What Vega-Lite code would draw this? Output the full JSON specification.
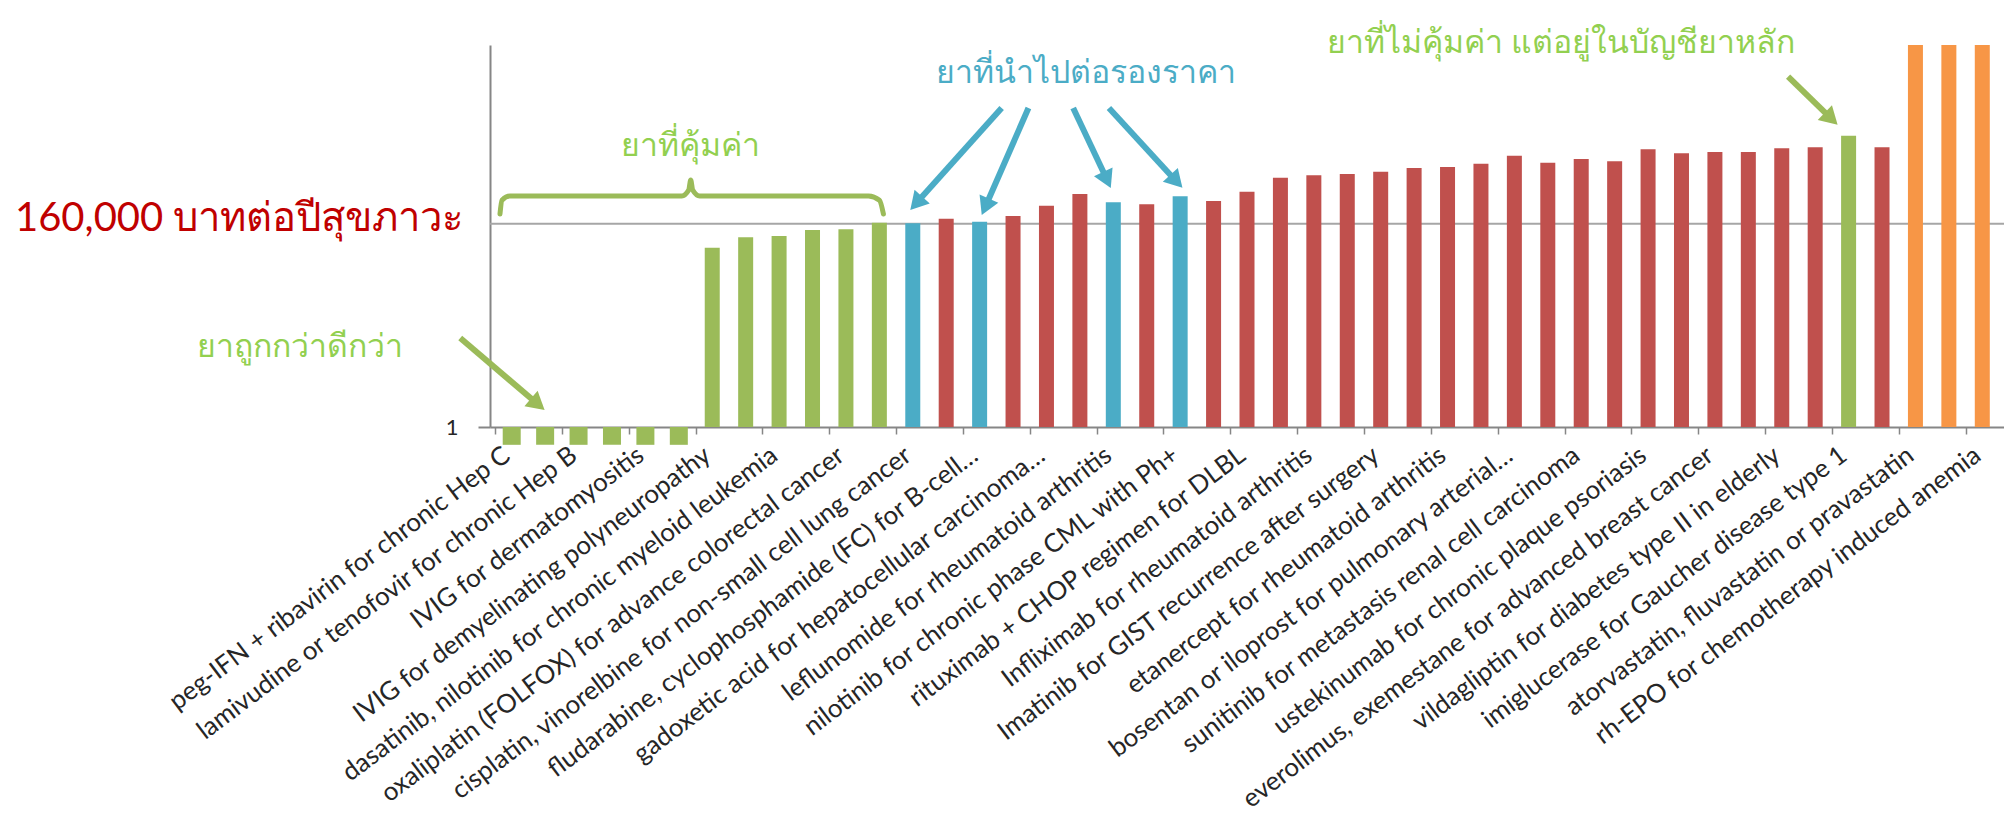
{
  "$schema": "https://vega.github.io/schema/vega-lite/v6.json",
  "width": 1514,
  "height": 382,
  "autosize": {"type": "none"},
  "padding": {"left": 490, "top": 45, "right": 0, "bottom": 394},
  "background": "white",
  "config": {"view": {"stroke": null}, "font": "Lato", "legend": {"disable": true}},
  "datasets": {
    "drugs": [
      {"rank": 1, "drug": "peg-IFN + ribavirin for chronic Hep C", "icer": 0.35, "group": "cheaper and better"},
      {"rank": 2, "icer": 0.35, "group": "cheaper and better"},
      {"rank": 3, "drug": "lamivudine or tenofovir for chronic Hep B", "icer": 0.35, "group": "cheaper and better"},
      {"rank": 4, "icer": 0.35, "group": "cheaper and better"},
      {"rank": 5, "drug": "IVIG for dermatomyositis", "icer": 0.35, "group": "cheaper and better"},
      {"rank": 6, "icer": 0.35, "group": "cheaper and better"},
      {"rank": 7, "drug": "IVIG for demyelinating polyneuropathy", "icer": 38800, "group": "cost-effective"},
      {"rank": 8, "icer": 71700, "group": "cost-effective"},
      {"rank": 9, "drug": "dasatinib, nilotinib for chronic myeloid leukemia", "icer": 77400, "group": "cost-effective"},
      {"rank": 10, "icer": 110000, "group": "cost-effective"},
      {"rank": 11, "drug": "oxaliplatin (FOLFOX) for advance colorectal cancer", "icer": 115000, "group": "cost-effective"},
      {"rank": 12, "icer": 170000, "group": "cost-effective"},
      {"rank": 13, "drug": "cisplatin, vinorelbine for non-small cell lung cancer", "icer": 164000, "group": "price negotiated"},
      {"rank": 14, "icer": 214000, "group": "not cost-effective"},
      {"rank": 15, "drug": "fludarabine, cyclophosphamide (FC) for B-cell…", "icer": 180000, "group": "price negotiated"},
      {"rank": 16, "icer": 252000, "group": "not cost-effective"},
      {"rank": 17, "drug": "gadoxetic acid for hepatocellular carcinoma…", "icer": 461000, "group": "not cost-effective"},
      {"rank": 18, "icer": 920000, "group": "not cost-effective"},
      {"rank": 19, "drug": "leflunomide for rheumatoid arthritis", "icer": 564000, "group": "price negotiated"},
      {"rank": 20, "icer": 501000, "group": "not cost-effective"},
      {"rank": 21, "drug": "nilotinib for chronic phase CML with Ph+", "icer": 803000, "group": "price negotiated"},
      {"rank": 22, "icer": 609000, "group": "not cost-effective"},
      {"rank": 23, "drug": "rituximab + CHOP regimen for DLBL", "icer": 1054000, "group": "not cost-effective"},
      {"rank": 24, "icer": 2400000, "group": "not cost-effective"},
      {"rank": 25, "drug": "Infliximab for rheumatoid arthritis", "icer": 2770000, "group": "not cost-effective"},
      {"rank": 26, "icer": 2990000, "group": "not cost-effective"},
      {"rank": 27, "drug": "Imatinib for GIST recurrence after surgery", "icer": 3420000, "group": "not cost-effective"},
      {"rank": 28, "icer": 4250000, "group": "not cost-effective"},
      {"rank": 29, "drug": "etanercept for rheumatoid arthritis", "icer": 4520000, "group": "not cost-effective"},
      {"rank": 30, "icer": 5490000, "group": "not cost-effective"},
      {"rank": 31, "drug": "bosentan or iloprost for pulmonary arterial…", "icer": 8790000, "group": "not cost-effective"},
      {"rank": 32, "icer": 5820000, "group": "not cost-effective"},
      {"rank": 33, "drug": "sunitinib for metastasis renal cell carcinoma", "icer": 7230000, "group": "not cost-effective"},
      {"rank": 34, "icer": 6320000, "group": "not cost-effective"},
      {"rank": 35, "drug": "ustekinumab for chronic plaque psoriasis", "icer": 12800000, "group": "not cost-effective"},
      {"rank": 36, "icer": 10100000, "group": "not cost-effective"},
      {"rank": 37, "drug": "everolimus, exemestane for advanced breast cancer", "icer": 10900000, "group": "not cost-effective"},
      {"rank": 38, "icer": 10900000, "group": "not cost-effective"},
      {"rank": 39, "drug": "vildagliptin for diabetes type II in elderly", "icer": 13600000, "group": "not cost-effective"},
      {"rank": 40, "icer": 14400000, "group": "not cost-effective"},
      {"rank": 41, "drug": "imiglucerase for Gaucher disease type 1", "icer": 28600000, "group": "not cost-effective but in NLEM"},
      {"rank": 42, "icer": 14400000, "group": "not cost-effective"},
      {"rank": 43, "drug": "atorvastatin, fluvastatin or pravastatin", "icer": 6000000000, "group": "very high ICER"},
      {"rank": 44, "icer": 6000000000, "group": "very high ICER"},
      {"rank": 45, "drug": "rh-EPO for chemotherapy induced anemia", "icer": 6000000000, "group": "very high ICER"}
    ],
    "arrows": [
      {"arrow": "G1", "group": "cheaper and better", "u": -0.54, "v": 189.7, "u2": 1.713, "v2": 4.31, "hu": 1.781, "hv": 3.83},
      {"arrow": "B1", "group": "price negotiated", "u": 15.659, "v": 146300000, "u2": 13.162, "v2": 606000, "hu": 13.103, "hv": 532000},
      {"arrow": "B2", "group": "price negotiated", "u": 16.461, "v": 146300000, "u2": 15.207, "v2": 511000, "hu": 15.171, "hv": 433000},
      {"arrow": "B3", "group": "price negotiated", "u": 17.799, "v": 146300000, "u2": 18.777, "v2": 2480000, "hu": 18.812, "hv": 2110000},
      {"arrow": "B4", "group": "price negotiated", "u": 18.869, "v": 146300000, "u2": 20.827, "v2": 2200000, "hu": 20.887, "hv": 1940000},
      {"arrow": "G2", "group": "not cost-effective but in NLEM", "u": 39.19, "v": 927000000, "u2": 40.42, "v2": 87700000, "hu": 40.48, "hv": 78000000}
    ],
    "bracket": [
      {"pt": 1, "u": 0.649, "v": 283000},
      {"pt": 2, "u": 0.708, "v": 640000},
      {"pt": 3, "u": 0.946, "v": 818000},
      {"pt": 4, "u": 6.088, "v": 818000},
      {"pt": 5, "u": 6.296, "v": 1160000},
      {"pt": 6, "u": 6.356, "v": 2100000},
      {"pt": 7, "u": 6.415, "v": 1160000},
      {"pt": 8, "u": 6.623, "v": 818000},
      {"pt": 9, "u": 11.676, "v": 818000},
      {"pt": 10, "u": 12.003, "v": 640000},
      {"pt": 11, "u": 12.122, "v": 283000}
    ]
  },
  "encoding": {
    "x": {"type": "quantitative", "title": null, "scale": {"domain": [0.5, 45.5], "nice": false, "zero": false}},
    "y": {"type": "quantitative", "title": null, "scale": {"type": "log", "domain": [1, 6000000000]}}
  },
  "layer": [
    {
      "data": {"values": [{"threshold": 160000}]},
      "mark": {"type": "rule", "color": "#A6A6A6", "strokeWidth": 2},
      "encoding": {
        "y": {"field": "threshold", "type": "quantitative"}
      }
    },
    {
      "data": {"name": "drugs"},
      "transform": [{"filter": "datum.icer >= 1"}],
      "mark": {"type": "bar", "width": 15},
      "encoding": {
        "x": {
          "field": "rank", "type": "quantitative",
          "axis": {
            "values": [0.5, 1.5, 2.5, 3.5, 4.5, 5.5, 6.5, 7.5, 8.5, 9.5, 10.5, 11.5, 12.5, 13.5, 14.5, 15.5, 16.5, 17.5, 18.5, 19.5, 20.5, 21.5, 22.5, 23.5, 24.5, 25.5, 26.5, 27.5, 28.5, 29.5, 30.5, 31.5, 32.5, 33.5, 34.5, 35.5, 36.5, 37.5, 38.5, 39.5, 40.5, 41.5, 42.5, 43.5, 44.5, 45.5],
            "labels": false, "grid": false, "tickSize": 7, "tickColor": "#868686", "tickWidth": 1.5,
            "domainColor": "#868686", "domainWidth": 2
          }
        },
        "y": {
          "field": "icer", "type": "quantitative",
          "axis": {
            "values": [1, 160000], "grid": false, "labelLimit": 1000,
            "labelExpr": "datum.value == 1 ? '1' : '160,000 บาทต่อปีสุขภาวะ'",
            "labelFontSize": {"condition": {"test": "datum.value == 1", "value": 22}, "value": 40},
            "labelColor": {"condition": {"test": "datum.value == 1", "value": "#262626"}, "value": "#C00000"},
            "labelPadding": {"condition": {"test": "datum.value == 1", "value": 20}, "value": 15},
            "labelOffset": {"condition": {"test": "datum.value == 1", "value": 0}, "value": -5},
            "tickOpacity": {"condition": {"test": "datum.value == 1", "value": 1}, "value": 0},
            "tickSize": 12, "tickColor": "#868686", "tickWidth": 2,
            "domainColor": "#868686", "domainWidth": 2
          }
        },
        "y2": {"datum": 1},
        "color": {
          "field": "group", "type": "nominal",
          "scale": {
            "domain": ["cheaper and better", "cost-effective", "price negotiated", "not cost-effective", "not cost-effective but in NLEM", "very high ICER"],
            "range": ["#9BBB59", "#9BBB59", "#4BACC6", "#C0504D", "#9BBB59", "#F79646"]
          }
        }
      }
    },
    {
      "data": {"name": "drugs"},
      "transform": [{"filter": "datum.icer < 1"}],
      "mark": {"type": "bar", "width": 18},
      "encoding": {
        "x": {"field": "rank", "type": "quantitative"},
        "y": {"field": "icer", "type": "quantitative"},
        "y2": {"datum": 1},
        "color": {"field": "group", "type": "nominal"}
      }
    },
    {
      "data": {"name": "drugs"},
      "transform": [{"filter": "isValid(datum.drug)"}],
      "mark": {"type": "text", "angle": 323, "align": "right", "baseline": "middle", "fontSize": 25.8, "color": "#262626", "dx": -19, "dy": 17.5},
      "encoding": {
        "x": {"field": "rank", "type": "quantitative"},
        "y": {"datum": 1},
        "text": {"field": "drug"}
      }
    },
    {
      "data": {"name": "bracket"},
      "mark": {"type": "line", "color": "#9BBB59", "strokeWidth": 5, "interpolate": "monotone", "strokeCap": "round", "strokeJoin": "round"},
      "encoding": {
        "x": {"field": "u", "type": "quantitative"},
        "y": {"field": "v", "type": "quantitative"},
        "order": {"field": "pt"}
      }
    },
    {
      "data": {"name": "arrows"},
      "mark": {"type": "rule", "strokeWidth": 6},
      "encoding": {
        "x": {"field": "u", "type": "quantitative"},
        "x2": {"field": "u2"},
        "y": {"field": "v", "type": "quantitative"},
        "y2": {"field": "v2"},
        "color": {"field": "group", "type": "nominal"}
      }
    },
    {"data": {"name": "arrows"}, "transform": [{"filter": "datum.arrow == 'G1'"}], "mark": {"type": "point", "shape": "triangle-up", "filled": true, "opacity": 1, "size": 420, "angle": 130},
      "encoding": {"x": {"field": "hu", "type": "quantitative"}, "y": {"field": "hv", "type": "quantitative"}, "color": {"field": "group", "type": "nominal"}}},
    {"data": {"name": "arrows"}, "transform": [{"filter": "datum.arrow == 'B1'"}], "mark": {"type": "point", "shape": "triangle-up", "filled": true, "opacity": 1, "size": 420, "angle": 222},
      "encoding": {"x": {"field": "hu", "type": "quantitative"}, "y": {"field": "hv", "type": "quantitative"}, "color": {"field": "group", "type": "nominal"}}},
    {"data": {"name": "arrows"}, "transform": [{"filter": "datum.arrow == 'B2'"}], "mark": {"type": "point", "shape": "triangle-up", "filled": true, "opacity": 1, "size": 420, "angle": 204},
      "encoding": {"x": {"field": "hu", "type": "quantitative"}, "y": {"field": "hv", "type": "quantitative"}, "color": {"field": "group", "type": "nominal"}}},
    {"data": {"name": "arrows"}, "transform": [{"filter": "datum.arrow == 'B3'"}], "mark": {"type": "point", "shape": "triangle-up", "filled": true, "opacity": 1, "size": 420, "angle": 155},
      "encoding": {"x": {"field": "hu", "type": "quantitative"}, "y": {"field": "hv", "type": "quantitative"}, "color": {"field": "group", "type": "nominal"}}},
    {"data": {"name": "arrows"}, "transform": [{"filter": "datum.arrow == 'B4'"}], "mark": {"type": "point", "shape": "triangle-up", "filled": true, "opacity": 1, "size": 420, "angle": 137},
      "encoding": {"x": {"field": "hu", "type": "quantitative"}, "y": {"field": "hv", "type": "quantitative"}, "color": {"field": "group", "type": "nominal"}}},
    {"data": {"name": "arrows"}, "transform": [{"filter": "datum.arrow == 'G2'"}], "mark": {"type": "point", "shape": "triangle-up", "filled": true, "opacity": 1, "size": 420, "angle": 134},
      "encoding": {"x": {"field": "hu", "type": "quantitative"}, "y": {"field": "hv", "type": "quantitative"}, "color": {"field": "group", "type": "nominal"}}},
    {
      "data": {"values": [
        {"note": "ยาที่คุ้มค่า", "u": 6.356, "v": 8650000},
        {"note": "ยาถูกกว่าดีกว่า", "u": -5.347, "v": 63.0},
        {"note": "ยาที่ไม่คุ้มค่า แต่อยู่ในบัญชียาหลัก", "u": 32.4, "v": 3810000000}
      ]},
      "mark": {"type": "text", "color": "#92D050", "fontSize": 32, "align": "center", "baseline": "alphabetic"},
      "encoding": {
        "x": {"field": "u", "type": "quantitative"},
        "y": {"field": "v", "type": "quantitative"},
        "text": {"field": "note"}
      }
    },
    {
      "data": {"values": [
        {"note": "ยาที่นำไปต่อรองราคา", "u": 18.185, "v": 628000000}
      ]},
      "mark": {"type": "text", "color": "#4BACC6", "fontSize": 32, "align": "center", "baseline": "alphabetic"},
      "encoding": {
        "x": {"field": "u", "type": "quantitative"},
        "y": {"field": "v", "type": "quantitative"},
        "text": {"field": "note"}
      }
    }
  ]
}
